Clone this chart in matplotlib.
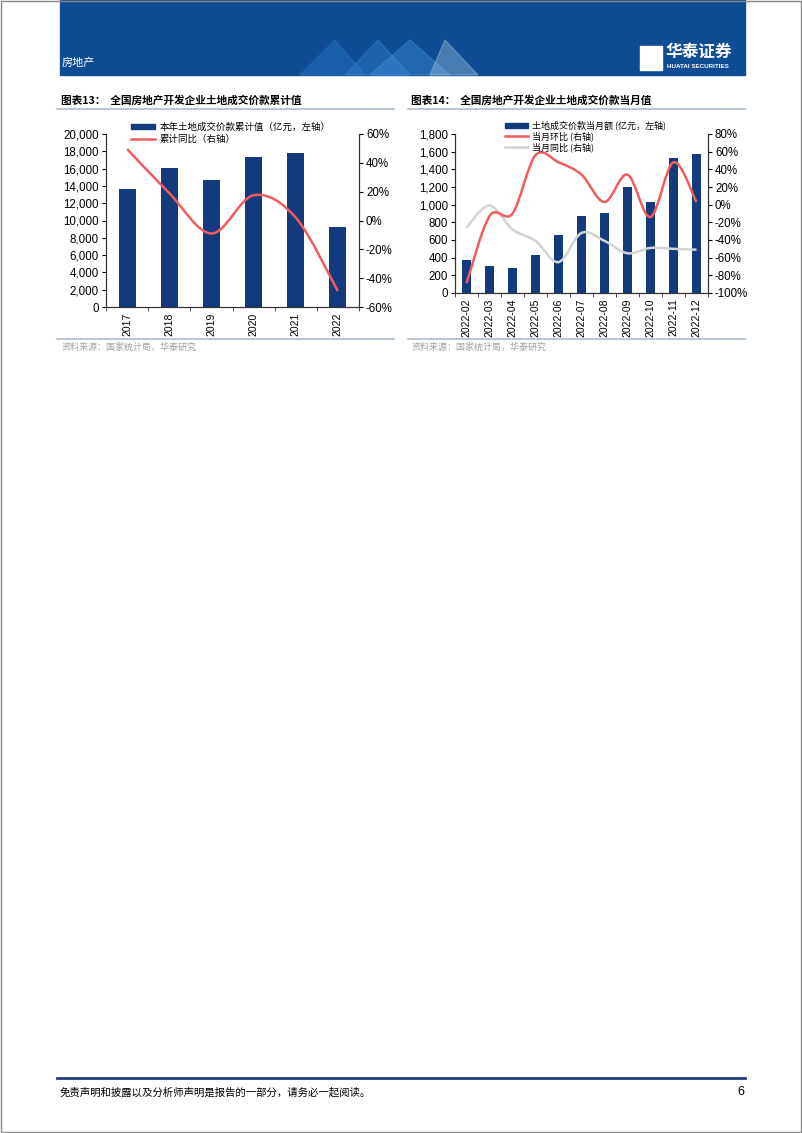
import numpy as np
import matplotlib
matplotlib.use("Agg")
import matplotlib.pyplot as plt
from matplotlib.path import Path
from matplotlib.patches import PathPatch, Rectangle, Polygon
from matplotlib.lines import Line2D
from matplotlib.ticker import FuncFormatter

plt.rcParams['font.family'] = ['Liberation Sans', 'Noto Sans CJK SC', 'DejaVu Sans']
CJK = ['Noto Sans CJK SC', 'DejaVu Sans']

# ---- data ----
years = ['2017', '2018', '2019', '2020', '2021', '2022']
cum_value = [13600, 16100, 14700, 17300, 17800, 9200]
cum_yoy = [49.5, 19, -9, 17.5, 2, -49]

months = ['2022-02', '2022-03', '2022-04', '2022-05', '2022-06', '2022-07',
          '2022-08', '2022-09', '2022-10', '2022-11', '2022-12']
month_value = [370, 305, 285, 435, 655, 875, 900, 1205, 1035, 1530, 1575]
month_mom = [-89, -13, -10, 56, 48, 34, 3, 34, -14, 48, 3]
month_yoy = [-26, -1, -28, -41, -65, -32, -41, -55, -49, -50, -51]

NAVY = '#133A7C'
RED = '#F25C5C'
GREY = '#D3D3D3'
BLUE = '#0E4D94'
LINE = '#A9BCD0'

W, H = 802, 1133
fig = plt.figure(figsize=(W / 100, H / 100), dpi=100)


def fx(x):
    return x / W


def fy(y):
    return 1 - y / H


def smooth_path(x, y):
    # excel-style smoothed line (catmull-rom as cubic bezier)
    pts = np.column_stack([x, y]).astype(float)
    n = len(pts)
    verts = [pts[0]]
    codes = [Path.MOVETO]
    for i in range(n - 1):
        p0 = pts[i - 1] if i > 0 else pts[i]
        p1 = pts[i]
        p2 = pts[i + 1]
        p3 = pts[i + 2] if i + 2 < n else pts[i + 1]
        c1 = p1 + (p2 - p0) / 6
        c2 = p2 - (p3 - p1) / 6
        verts += [c1, c2, p2]
        codes += [Path.CURVE4] * 3
    return Path(verts, codes)


def style_axes(ax, ax2, labels):
    n = len(labels)
    ax.set_xlim(-0.5, n - 0.5)
    ax.set_xticks(range(n))
    ax.set_xticklabels(labels, rotation=90, fontsize=7.5)
    ax.set_xticks(np.arange(-0.5, n, 1), minor=True)
    ax.tick_params(axis='x', which='major', length=0, pad=4)
    ax.tick_params(axis='x', which='minor', length=3, direction='out', color='#333333')
    ax.tick_params(axis='y', labelsize=8.3, length=3, direction='out', pad=2)
    ax2.tick_params(axis='y', labelsize=8.3, length=3, direction='out', pad=2)
    for a in (ax, ax2):
        a.spines['top'].set_visible(False)
        for s in ('left', 'right', 'bottom'):
            a.spines[s].set_color('#333333')
            a.spines[s].set_linewidth(0.8)
    ax.yaxis.set_major_formatter(FuncFormatter(lambda v, p: f'{v:,.0f}'))
    ax2.yaxis.set_major_formatter(FuncFormatter(lambda v, p: f'{v:.0f}%'))


# ---- header banner ----
fig.patches.append(Rectangle((fx(60), fy(75)), fx(745) - fx(60), fy(0) - fy(75),
                             transform=fig.transFigure, color=BLUE, zorder=0))
for xs, c in [((300, 335, 365), '#2E7FD0'), ((345, 378, 410), '#3A8EDB'),
              ((370, 410, 450), '#4A9BE3'), ((430, 445, 478), '#B9D3EE')]:
    fig.patches.append(Polygon([(fx(xs[0]), fy(75)), (fx(xs[1]), fy(40)), (fx(xs[2]), fy(75))],
                               closed=True, transform=fig.transFigure, color=c, alpha=0.35, zorder=1))
fig.text(fx(62), fy(63), '房地产', color='white', fontsize=8, family=CJK, style='italic', va='center')
fig.patches.append(Rectangle((fx(640), fy(70)), fx(22) - fx(0), fy(0) - fy(24),
                             transform=fig.transFigure, color='white', zorder=2))
fig.text(fx(666), fy(52), '华泰证券', color='white', fontsize=12, family=CJK, weight='bold', va='center')
fig.text(fx(667), fy(67), 'HUATAI SECURITIES', color='white', fontsize=4.5, weight='bold', va='center')

# page frame
fig.patches.append(Rectangle((0.001, 0.001), 0.998, 0.998, transform=fig.transFigure,
                             fill=False, edgecolor='#888888', linewidth=1))

# ---- titles, rules, sources ----
fig.text(fx(61), fy(100), '图表13：  全国房地产开发企业土地成交价款累计值', fontsize=7.7,
         weight='bold', family=CJK, va='center')
fig.text(fx(411), fy(100), '图表14：  全国房地产开发企业土地成交价款当月值', fontsize=7.7,
         weight='bold', family=CJK, va='center')
for x0, x1 in [(57, 394), (408, 745)]:
    fig.add_artist(Line2D([fx(x0), fx(x1)], [fy(108.5)] * 2, color=LINE, lw=1.2))
    fig.add_artist(Line2D([fx(x0), fx(x1)], [fy(339)] * 2, color=LINE, lw=1.2))
fig.text(fx(62), fy(347), '资料来源：国家统计局，华泰研究', fontsize=6.5, color='#A0A0A0', family=CJK, va='center')
fig.text(fx(412), fy(347), '资料来源：国家统计局，华泰研究', fontsize=6.5, color='#A0A0A0', family=CJK, va='center')

# ---- chart 13 ----
ax = fig.add_axes([fx(106), fy(307), fx(359) - fx(106), fy(134) - fy(307)])
ax2 = ax.twinx()
xi = np.arange(len(years))
ax.bar(xi, cum_value, width=0.4, color=NAVY, zorder=2)
ax.set_ylim(0, 20000)
ax.set_yticks(range(0, 20001, 2000))
ax2.set_ylim(-60, 60)
ax2.set_yticks(range(-60, 61, 20))
ax2.add_patch(PathPatch(smooth_path(xi, cum_yoy), fill=False, edgecolor=RED, lw=1.8, zorder=3))
style_axes(ax, ax2, years)
h1 = [Rectangle((0, 0), 1, 1, color=NAVY), Line2D([], [], color=RED, lw=1.8)]
fig.legend(h1, ['本年土地成交价款累计值（亿元，左轴）', '累计同比（右轴）'],
           loc='upper left', bbox_to_anchor=(fx(126), fy(118)), frameon=False,
           prop={'family': CJK, 'size': 6.8}, handlelength=2.6, handleheight=0.5,
           labelspacing=0.3, borderpad=0, handletextpad=0.5)

# ---- chart 14 ----
bx = fig.add_axes([fx(455), fy(293), fx(708) - fx(455), fy(134) - fy(293)])
bx2 = bx.twinx()
mi = np.arange(len(months))
bx.bar(mi, month_value, width=0.4, color=NAVY, zorder=2)
bx.set_ylim(0, 1800)
bx.set_yticks(range(0, 1801, 200))
bx2.set_ylim(-100, 80)
bx2.set_yticks(range(-100, 81, 20))
bx2.add_patch(PathPatch(smooth_path(mi, month_yoy), fill=False, edgecolor=GREY, lw=1.8, zorder=3))
bx2.add_patch(PathPatch(smooth_path(mi, month_mom), fill=False, edgecolor=RED, lw=1.8, zorder=4))
style_axes(bx, bx2, months)
h2 = [Rectangle((0, 0), 1, 1, color=NAVY), Line2D([], [], color=RED, lw=1.8),
      Line2D([], [], color=GREY, lw=1.8)]
fig.legend(h2, ['土地成交价款当月额 (亿元，左轴)', '当月环比 (右轴)', '当月同比 (右轴)'],
           loc='upper left', bbox_to_anchor=(fx(500), fy(116)), frameon=False,
           prop={'family': CJK, 'size': 6.5}, handlelength=2.6, handleheight=0.5,
           labelspacing=0.12, borderpad=0, handletextpad=0.5)

# ---- footer ----
fig.add_artist(Line2D([fx(57), fx(745)], [fy(1078)] * 2, color='#1F3F7A', lw=2))
fig.text(fx(60), fy(1092), '免责声明和披露以及分析师声明是报告的一部分，请务必一起阅读。',
         fontsize=7.5, family=CJK, style='italic', va='center')
fig.text(fx(744), fy(1092), '6', fontsize=9, ha='right', va='center')

fig.savefig('out.png', dpi=100)
